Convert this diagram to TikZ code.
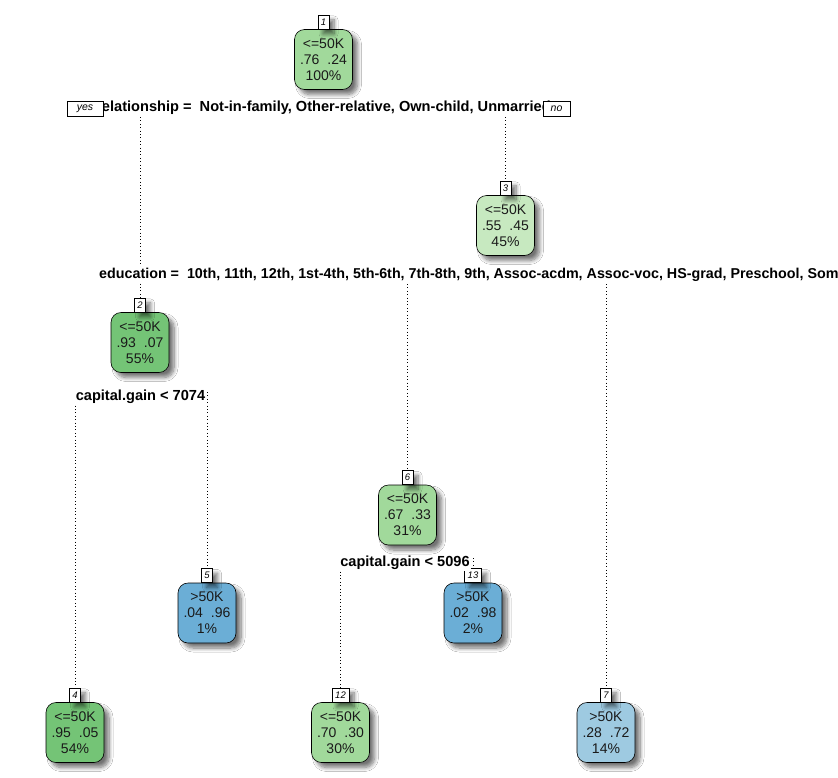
\documentclass[tikz,border=0pt]{standalone}
\usepackage{fontspec}
\setmainfont{Liberation Sans}
\usetikzlibrary{shadows.blur}
\definecolor{grA}{HTML}{74C476}
\definecolor{grB}{HTML}{A1D99B}
\definecolor{grC}{HTML}{C7E9C0}
\definecolor{blA}{HTML}{6BAED6}
\definecolor{blB}{HTML}{9ECAE1}
\definecolor{ink}{HTML}{1A1A1A}
\tikzset{
  softshadow/.style={blur shadow={shadow xshift=5pt, shadow yshift=-5pt,
      shadow blur steps=8, shadow blur radius=4pt, shadow opacity=55}},
  treenode/.style={draw=black, line width=0.6pt, rounded corners=10pt,
      minimum width=58pt, minimum height=60pt, inner sep=0pt, align=center,
      text=ink, font=\fontsize{14}{16}\selectfont, softshadow},
  tag/.style={draw=black, line width=0.5pt, fill=white, minimum height=14pt,
      minimum width=11pt, inner sep=1.5pt, anchor=south,
      font=\fontsize{9.5}{9.5}\selectfont\itshape, softshadow},
  splittext/.style={fill=white, inner sep=1pt, text=black,
      font=\bfseries\fontsize{14.6}{14.6}\selectfont},
  yesno/.style={draw=black, line width=0.5pt, fill=white, minimum height=15pt,
      inner sep=1pt, font=\fontsize{10.5}{10.5}\selectfont\itshape},
  branch/.style={black, line width=0.8pt, dash pattern=on 0.8pt off 2.6pt},
}
\begin{document}
\begin{tikzpicture}[x=1pt, y=-1pt]
\clip (0,0) rectangle (838,777);
\fill[white] (0,0) rectangle (838,777);

% tree nodes
\node[treenode, fill=grB] (n1)  at (323.5,59.5)  {<=50K\\.76\hspace{8pt}.24\\100\%};
\node[treenode, fill=grC] (n3)  at (505.5,225.5) {<=50K\\.55\hspace{8pt}.45\\45\%};
\node[treenode, fill=grA] (n2)  at (140,342.5)   {<=50K\\.93\hspace{8pt}.07\\55\%};
\node[treenode, fill=grB] (n6)  at (407.5,515)   {<=50K\\.67\hspace{8pt}.33\\31\%};
\node[treenode, fill=blA] (n5)  at (207,613)     {>50K\\.04\hspace{8pt}.96\\1\%};
\node[treenode, fill=blA] (n13) at (473,613)     {>50K\\.02\hspace{8pt}.98\\2\%};
\node[treenode, fill=grA] (n4)  at (75,732.5)    {<=50K\\.95\hspace{8pt}.05\\54\%};
\node[treenode, fill=grB] (n12) at (340.5,732.5) {<=50K\\.70\hspace{8pt}.30\\30\%};
\node[treenode, fill=blB] (n7)  at (606,732.5)   {>50K\\.28\hspace{8pt}.72\\14\%};

% node number tags
\node[tag] (t1)  at (n1.north)  {1};
\node[tag] (t3)  at (n3.north)  {3};
\node[tag] (t2)  at (n2.north)  {2};
\node[tag] (t6)  at (n6.north)  {6};
\node[tag] (t5)  at (n5.north)  {5};
\node[tag, minimum width=17pt] (t13) at (n13.north) {13};
\node[tag] (t4)  at (n4.north)  {4};
\node[tag, minimum width=17pt] (t12) at (n12.north) {12};
\node[tag] (t7)  at (n7.north)  {7};

% anchor points of the split labels
\path (323.5,108) coordinate (c1);
\path (98,275) coordinate (c3);
\path (140.5,397) coordinate (c2);
\path (405,563) coordinate (c6);

% branches
\draw[branch] (c1 -| t2.north) ++(0,-8) -- (t2.north);
\draw[branch] (c1 -| t3.north) ++(0,-8) -- (t3.north);
\draw[branch] (c3 -| t6.north) ++(0,-8) -- (t6.north);
\draw[branch] (c3 -| t7.north) ++(0,-8) -- (t7.north);
\draw[branch] (c2 -| t4.north) ++(0,-5) -- (t4.north);
\draw[branch] (c2 -| t5.north) ++(0,-5) -- (t5.north);
\draw[branch] (c6 -| t12.north) ++(0,-5) -- (t12.north);
\draw[branch] (c6 -| t13.north) ++(0,-5) -- (t13.north);

% split texts
\node[splittext] (s1) at (c1) {relationship =\ \ Not-in-family, Other-relative, Own-child, Unmarried};
\node[splittext, anchor=west, font=\bfseries\fontsize{14.3}{14.3}\selectfont] (s3) at (c3) {education =\ \ 10th, 11th, 12th, 1st-4th, 5th-6th, 7th-8th, 9th, Assoc-acdm, Assoc-voc, HS-grad, Preschool, Some-college};
\node[splittext] (s2) at (c2) {capital.gain < 7074};
\node[splittext] (s6) at (c6) {capital.gain < 5096};

% yes / no markers
\node[yesno, minimum width=36pt] (yes) at (85,108.5) {yes};
\node[yesno, minimum width=27pt] (no) at (556.5,108.5) {no};
\end{tikzpicture}
\end{document}
